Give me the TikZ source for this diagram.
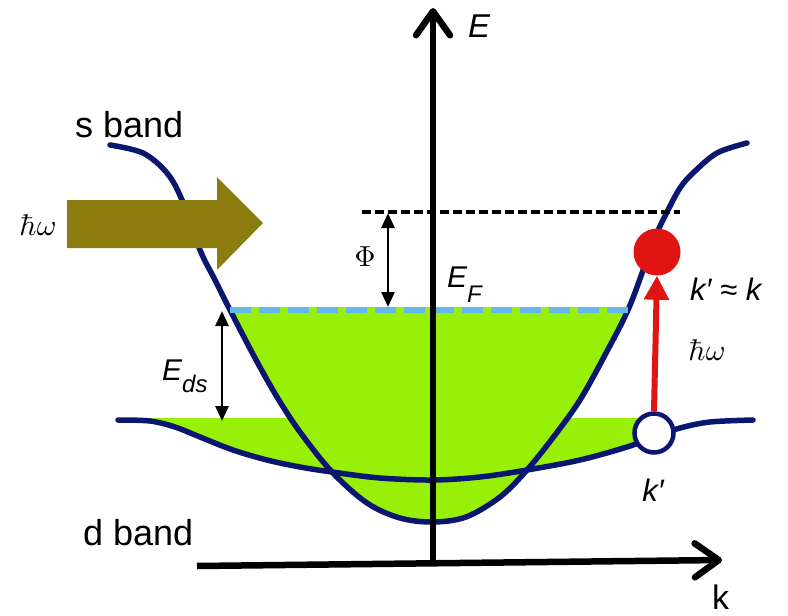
\documentclass[tikz,border=0pt]{standalone}
\usepackage[no-math]{fontspec}
\setmainfont{Liberation Sans}
\usetikzlibrary{arrows.meta}
\definecolor{bandblue}{RGB}{10,22,112}
\definecolor{fillgreen}{RGB}{152,240,8}
\definecolor{fermiblue}{RGB}{100,185,235}
\definecolor{photonolive}{RGB}{140,124,16}
\definecolor{exred}{RGB}{225,20,20}
\begin{document}
\begin{tikzpicture}[x=1pt,y=-1pt,
  band/.style={bandblue, line width=5.5pt, line cap=round},
  axisline/.style={line width=6.5pt, -{Straight Barb[length=24pt,width=34pt,round]}},
  dimarrow/.style={line width=2.8pt, {Triangle[length=15pt,width=13pt]}-{Triangle[length=15pt,width=13pt]}},
  lbl/.style={inner sep=0pt}]
\useasboundingbox (0,0) rectangle (788,616);

% green filling
\begin{scope}
  \clip (0,307) rectangle (788,616);
  \fill[fillgreen] plot[smooth, tension=0.55] coordinates {(110,145) (143,153) (167,173) (182,200) (200,250) (215,280) (230,310) (255,358) (277,397) (300,432) (332,472) (367,503) (400,518) (433,522) (466,517) (500,497) (527,470) (555,435) (580,400) (605,355) (628,310) (645,265) (657,233) (667,212) (680,188) (693,173) (717,153) (747,143)} -- cycle;
\end{scope}
\begin{scope}
  \clip (0,418) rectangle (640,616);
  \fill[fillgreen] plot[smooth, tension=0.55] coordinates {(118,420) (150,421) (175,427) (200,437) (233,450) (267,460) (300,467) (332,472) (380,478) (433,480) (480,477) (527,470) (580,460) (627,447) (654,437) (680,428) (710,422) (753,420)} -- (753,400) -- (118,400) -- cycle;
\end{scope}

% bands
\draw[band] plot[smooth, tension=0.55] coordinates {(118,420) (150,421) (175,427) (200,437) (233,450) (267,460) (300,467) (332,472) (380,478) (433,480) (480,477) (527,470) (580,460) (627,447) (654,437) (680,428) (710,422) (753,420)};
\draw[band] plot[smooth, tension=0.55] coordinates {(110,145) (143,153) (167,173) (182,200) (200,250) (215,280) (230,310) (255,358) (277,397) (300,432) (332,472) (367,503) (400,518) (433,522) (466,517) (500,497) (527,470) (555,435) (580,400) (605,355) (628,310) (645,265) (657,233) (667,212) (680,188) (693,173) (717,153) (747,143)};

% levels
\coordinate (fermiL) at (230,310);
\coordinate (fermiR) at (628,310);
\coordinate (vacL) at (362,212);
\coordinate (vacR) at (680,212);
\draw[fermiblue, line width=6pt, dash pattern=on 21pt off 8pt] (fermiL) -- (fermiR);
\draw[line width=4pt, dash pattern=on 9pt off 4pt] (vacL) -- (vacR);

% axes
\coordinate (origin) at (433,566);
\coordinate (Etip) at (433,8);
\coordinate (kstart) at (197,566);
\coordinate (ktip) at (722,560);
\draw[axisline] (origin) -- (Etip);
\draw[axisline] (kstart) -- (ktip);

% dimension arrows
\coordinate (phiT) at (388,213);
\coordinate (phiB) at (388,307);
\coordinate (edsT) at (222,311);
\coordinate (edsB) at (222,421);
\draw[dimarrow] (phiT) -- (phiB);
\draw[dimarrow] (edsT) -- (edsB);

% photon arrow
\fill[photonolive] (67,200) -- (217,200) -- (217,177) -- (263,223) -- (217,270) -- (217,248) -- (67,248) -- cycle;

% excitation
\node[circle, fill=exred, minimum size=47pt, inner sep=0pt] (dot) at (657,252) {};
\node[circle, draw=bandblue, line width=4.5pt, fill=white, minimum size=39pt, inner sep=0pt] (hole) at (654,433) {};
\draw[exred, line width=6pt, -{Triangle[length=24pt,width=24pt]}] (hole.north) -- (dot.south);

% labels
\node[lbl, anchor=base west] (sband) at (75,137) {\fontsize{36}{40}\selectfont s band};
\node[lbl, anchor=base west] (dband) at (83,545) {\fontsize{36}{40}\selectfont d band};
\node[lbl, anchor=base west] (Elab) at (468,37) {\fontsize{33}{40}\selectfont\itshape E};
\node[lbl, anchor=base west] (EFlab) at (447,287) {\fontsize{30}{36}\selectfont\itshape E\raisebox{-15pt}{\fontsize{24}{28}\selectfont F}};
\node[lbl, anchor=base west] (Edslab) at (162,380) {\fontsize{30}{36}\selectfont\itshape E\raisebox{-12pt}{\fontsize{24}{28}\selectfont ds}};
\node[lbl, scale=3] (phlab) at (38,225) {$\hbar\omega$};
\node[lbl, scale=3] (ph2lab) at (707,350) {$\hbar\omega$};
\node[lbl, scale=2.9] (philab) at (365,257) {$\Phi$};
\node[lbl, anchor=base west] (kklab) at (690,300) {\fontsize{31}{36}\selectfont\itshape k′ ≈ k};
\node[lbl] (kplab) at (653,490) {\fontsize{31}{36}\selectfont\itshape k′};
\node[lbl, anchor=base west] (klab) at (712,609) {\fontsize{34}{40}\selectfont k};
\end{tikzpicture}
\end{document}
